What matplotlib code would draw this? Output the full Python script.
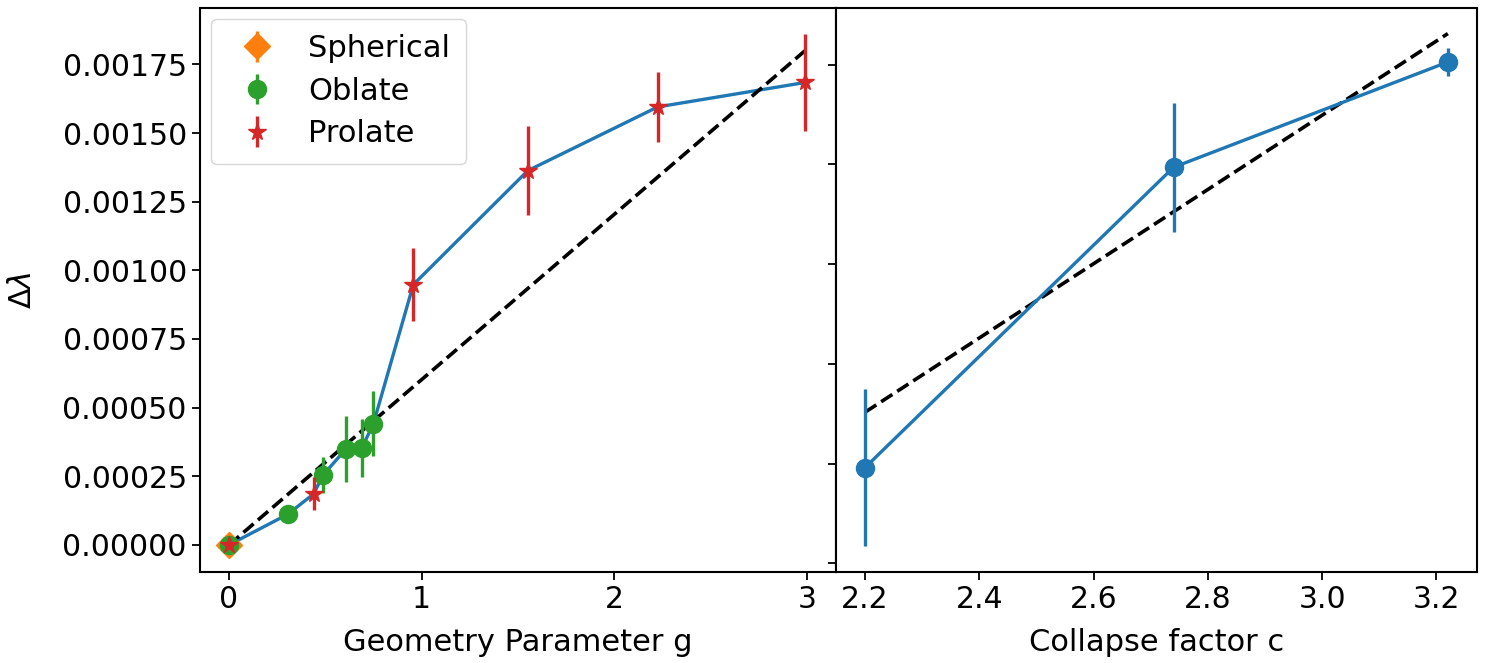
import numpy as np
import matplotlib
matplotlib.use("Agg")
import matplotlib.pyplot as plt

# left panel: delta lambda vs geometry parameter g
sph_g = [0.0]
sph_dl = [0.0]
sph_err = [0.000005]

obl_g = [0.0, 0.306, 0.489, 0.608, 0.690, 0.750]
obl_dl = [0.0, 0.000112, 0.000255, 0.000350, 0.000353, 0.000442]
obl_err = [0.000005, 0.00002, 0.000064, 0.000121, 0.000107, 0.000118]

pro_g = [0.0, 0.440, 0.957, 1.551, 2.225, 2.99]
pro_dl = [0.0, 0.000186, 0.000948, 0.001363, 0.001595, 0.001684]
pro_err = [0.000005, 0.00006, 0.000134, 0.000163, 0.000128, 0.000178]

fit_g = [0.0, 3.0]
fit_g_dl = [0.0, 0.001806]

# right panel: delta lambda vs collapse factor c
col_c = [2.2, 2.74, 3.22]
col_dl = [0.000192, 0.000794, 0.001005]
col_err = [0.000158, 0.000129, 0.000028]

fit_c = [2.2, 3.22]
fit_c_dl = [0.000303, 0.001062]

plt.rcParams['font.family'] = 'DejaVu Sans'
plt.rcParams['font.size'] = 22
plt.rcParams['xtick.labelsize'] = 21.5
plt.rcParams['ytick.labelsize'] = 21.5

fig = plt.figure(figsize=(14.88, 6.63), dpi=100)
ax1 = fig.add_axes([0.1344, 0.1373, 0.4274, 0.8507])
ax2 = fig.add_axes([0.5618, 0.1373, 0.4308, 0.8507])

# blue line through every shape, sorted by g
all_g = np.concatenate([sph_g, obl_g[1:], pro_g[1:]])
all_dl = np.concatenate([sph_dl, obl_dl[1:], pro_dl[1:]])
order = np.argsort(all_g)
ax1.plot(all_g[order], all_dl[order], color='tab:blue', lw=2.4, zorder=1)
ax1.plot(fit_g, fit_g_dl, 'k--', lw=2.6, zorder=2)

ax1.errorbar(sph_g, sph_dl, yerr=sph_err, fmt='D', color='tab:orange',
             ms=13, elinewidth=2.4, label='Spherical', zorder=3)
ax1.errorbar(obl_g, obl_dl, yerr=obl_err, fmt='o', color='tab:green',
             ms=13, elinewidth=2.4, label='Oblate', zorder=4)
ax1.errorbar(pro_g, pro_dl, yerr=pro_err, fmt='*', color='tab:red',
             ms=13, elinewidth=2.4, label='Prolate', zorder=5)

ax1.set_xticks([0, 1, 2, 3])
ax1.set_xlabel('Geometry Parameter g', labelpad=10)
ax1.set_ylabel(r'$\Delta\lambda$', labelpad=18)
ax1.legend(loc='upper left', fontsize=22, handletextpad=0.7, borderpad=0.5,
           labelspacing=0.45, borderaxespad=0.35)

ax2.plot(fit_c, fit_c_dl, 'k--', lw=2.6, zorder=2)
ax2.errorbar(col_c, col_dl, yerr=col_err, fmt='-o', color='tab:blue',
             ms=13, lw=2.4, elinewidth=2.4, zorder=3)
ax2.set_xlabel('Collapse factor c', labelpad=10)
ax2.tick_params(labelleft=False)

for ax in (ax1, ax2):
    ax.tick_params(length=6, width=1.3)
    for s in ax.spines.values():
        s.set_linewidth(1.5)

fig.savefig('out.png', dpi=100)
